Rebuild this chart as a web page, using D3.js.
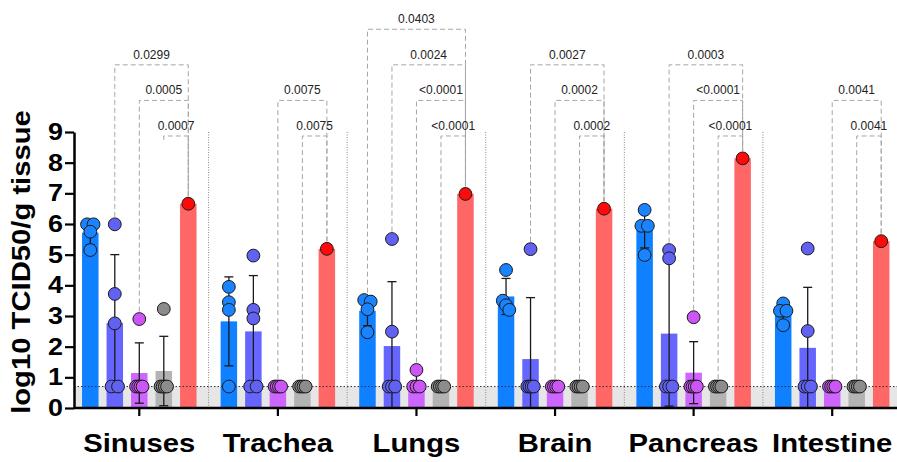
<!DOCTYPE html>
<html>
<head>
<meta charset="utf-8">
<script src="https://cdn.jsdelivr.net/npm/d3@7"></script>
<style>
  html, body { margin: 0; padding: 0; background: #fff; }
  svg { display: block; }
</style>
</head>
<body>
<svg id="chart" width="897" height="462"></svg>
<script>
// Tissue titres (log10 TCID50/g) for five groups across six organs.
const organs = ["Sinuses", "Trachea", "Lungs", "Brain", "Pancreas", "Intestine"];
const seriesKeys = ["s1", "s2", "s3", "s4", "s5"];

// Individual animal values, one list per organ (in organ order).
const series1 = [[5.99, 5.99, 5.75, 5.15], [3.95, 3.45, 3.2, 0.7], [3.52, 3.47, 3.22, 2.47],
                 [4.5, 3.5, 3.35, 3.2], [6.46, 5.94, 5.94, 4.99], [3.41, 3.17, 3.17, 2.7]];
const series2 = [[5.99, 3.72, 2.76, 0.7, 0.7], [4.97, 3.2, 2.92, 0.7, 0.7], [5.51, 2.49, 0.7, 0.7, 0.7],
                 [5.18, 0.7, 0.7, 0.7, 0.7], [5.15, 4.88, 0.7, 0.7, 0.7], [5.2, 2.51, 0.7, 0.7, 0.7]];
const series3 = [[2.9, 0.7, 0.7, 0.7, 0.7], [0.7, 0.7, 0.7, 0.7], [1.24, 0.7, 0.7, 0.7],
                 [0.7, 0.7, 0.7, 0.7], [2.96, 0.7, 0.7, 0.7, 0.7], [0.7, 0.7, 0.7, 0.7]];
const series4 = [[3.23, 0.7, 0.7, 0.7, 0.7], [0.7, 0.7, 0.7, 0.7], [0.7, 0.7, 0.7, 0.7],
                 [0.7, 0.7, 0.7, 0.7], [0.7, 0.7, 0.7, 0.7], [0.7, 0.7, 0.7, 0.7]];
const series5 = [[6.66], [5.19], [6.98], [6.5], [8.14], [5.44]];

const detectionLimit = 0.7;
const yTicks = [0, 1, 2, 3, 4, 5, 6, 7, 8, 9];

// Pairwise comparisons: [organ, series index compared with series 5, bracket tier, p value]
const comparisons = [
  ["Sinuses", 1, 2, "0.0299"], ["Sinuses", 2, 1, "0.0005"], ["Sinuses", 3, 0, "0.0007"],
  ["Trachea", 2, 1, "0.0075"], ["Trachea", 3, 0, "0.0075"],
  ["Lungs", 0, 3, "0.0403"], ["Lungs", 1, 2, "0.0024"], ["Lungs", 2, 1, "<0.0001"], ["Lungs", 3, 0, "<0.0001"],
  ["Brain", 1, 2, "0.0027"], ["Brain", 2, 1, "0.0002"], ["Brain", 3, 0, "0.0002"],
  ["Pancreas", 1, 2, "0.0003"], ["Pancreas", 2, 1, "<0.0001"], ["Pancreas", 3, 0, "<0.0001"],
  ["Intestine", 2, 1, "0.0041"], ["Intestine", 3, 0, "0.0041"]
];
// Brackets whose left leg stops just under the bar line
const shortLegs = [["Sinuses", 3]];

const allSeries = [series1, series2, series3, series4, series5];
const barColors = ["#0f80ff", "#6666ff", "#cc66ff", "#b3b3b3", "#ff6666"];
const dotColors = ["#1a84ff", "#6262f2", "#cc55f5", "#8c8c8c", "#ff0a0a"];

const W = 897, H = 462;
const axisX = 74;
const svg = d3.select("#chart");
const font = "'Liberation Sans', Arial, Helvetica, sans-serif";
const wide = 1.17;   // horizontal stretch of the bold labels

const y = d3.scaleLinear().domain([0, 9]).range([408, 132]);
const x = d3.scaleBand().domain(organs).range([70, 901.5]).padding(0);
const xi = d3.scaleBand().domain(seriesKeys)
  .range([-x.bandwidth() * 0.442, x.bandwidth() * 0.442])
  .paddingInner(0.327).paddingOuter(0.1635);
const r = 6.4;
const tierValue = t => 8.87 + t * 1.16;

// summary stats per bar
const bars = [];
organs.forEach((o, oi) => {
  seriesKeys.forEach((k, si) => {
    const pts = allSeries[si][oi];
    const mean = d3.mean(pts);
    const sd = pts.length > 1 ? d3.deviation(pts) : 0;
    bars.push({ organ: o, key: k, si, pts, mean, sd });
  });
});

// horizontal spread for coincident points
function spread(pts) {
  const sorted = pts.map((v, i) => ({ v, i })).sort((a, b) => b.v - a.v);
  const out = [];
  let cluster = [];
  const flush = () => {
    const n = cluster.length;
    const step = n === 2 ? 6.5 : (n > 2 ? 6.5 / (n - 1) : 0);
    cluster.forEach((p, j) => out.push({ v: p.v, dx: (j - (n - 1) / 2) * step }));
    cluster = [];
  };
  sorted.forEach(p => {
    if (cluster.length && Math.abs(cluster[cluster.length - 1].v - p.v) > 0.2) flush();
    cluster.push(p);
  });
  flush();
  return out;
}

// detection-limit band
svg.append("rect")
  .attr("x", axisX).attr("y", y(detectionLimit))
  .attr("width", W - axisX).attr("height", y(0) - y(detectionLimit))
  .attr("fill", "#e6e6e6");

// organ separators
svg.append("g").selectAll("line")
  .data(organs.slice(1))
  .join("line")
  .attr("x1", d => x(d)).attr("x2", d => x(d))
  .attr("y1", y(9)).attr("y2", y(0))
  .attr("stroke", "#8a8a8a").attr("stroke-width", 1)
  .attr("stroke-dasharray", "1,1.5");

// bars
svg.append("g").selectAll("rect")
  .data(bars)
  .join("rect")
  .attr("x", d => x(d.organ) + x.bandwidth() / 2 + xi(d.key))
  .attr("width", xi.bandwidth())
  .attr("y", d => y(d.mean))
  .attr("height", d => y(0) - y(d.mean))
  .attr("fill", d => barColors[d.si]);

// detection-limit line
svg.append("line")
  .attr("x1", axisX).attr("x2", W)
  .attr("y1", y(detectionLimit)).attr("y2", y(detectionLimit))
  .attr("stroke", "#333").attr("stroke-width", 1)
  .attr("stroke-dasharray", "1.5,2");

// error bars (mean ± SD)
const eb = svg.append("g").attr("stroke", "#1a1a1a").attr("stroke-width", 1.3).attr("fill", "none");
bars.filter(d => d.sd > 0).forEach(d => {
  const cx = x(d.organ) + x.bandwidth() / 2 + xi(d.key) + xi.bandwidth() / 2;
  const lo = Math.max(0, d.mean - d.sd), hi = d.mean + d.sd;
  eb.append("line").attr("x1", cx).attr("x2", cx).attr("y1", y(lo)).attr("y2", y(hi));
  eb.append("line").attr("x1", cx - 4.5).attr("x2", cx + 4.5).attr("y1", y(hi)).attr("y2", y(hi));
  eb.append("line").attr("x1", cx - 4.5).attr("x2", cx + 4.5).attr("y1", y(lo)).attr("y2", y(lo));
});

// individual points
const dots = svg.append("g");
bars.forEach(d => {
  const cx = x(d.organ) + x.bandwidth() / 2 + xi(d.key) + xi.bandwidth() / 2;
  dots.selectAll(null)
    .data(spread(d.pts))
    .join("circle")
    .attr("cx", p => cx + p.dx)
    .attr("cy", p => y(p.v))
    .attr("r", r)
    .attr("fill", dotColors[d.si])
    .attr("stroke", "#1a1a1a").attr("stroke-width", 1);
});

// comparison brackets
const br = svg.append("g");
comparisons.forEach(([organ, si, tier, label]) => {
  const left = bars.find(b => b.organ === organ && b.si === si);
  const right = bars.find(b => b.organ === organ && b.si === 4);
  const cxOf = b => x(b.organ) + x.bandwidth() / 2 + xi(b.key) + xi.bandwidth() / 2;
  const x1 = cxOf(left), x2 = cxOf(right);
  const ly = y(tierValue(tier));
  const isShort = shortLegs.some(s => s[0] === organ && s[1] === si);
  const leftEnd = isShort ? ly + 4 : y(d3.max(left.pts)) - r - 1;
  const rightEnd = y(d3.max(right.pts)) - r - 1;
  br.append("path")
    .attr("d", `M${x1},${leftEnd}V${ly}H${x2}V${rightEnd}`)
    .attr("fill", "none")
    .attr("stroke", "#a6a6a6").attr("stroke-width", 1)
    .attr("stroke-dasharray", "5,3");
  br.append("text")
    .attr("x", (x1 + x2) / 2).attr("y", ly - 6)
    .attr("text-anchor", "middle")
    .attr("font-family", font).attr("font-size", 12)
    .attr("fill", "#222")
    .text(label);
});

// y axis
const yAxis = svg.append("g")
  .attr("transform", `translate(${axisX},0)`)
  .call(d3.axisLeft(y).tickValues(yTicks).tickSize(9).tickSizeOuter(0).tickFormat(d3.format("d")));
yAxis.select(".domain").attr("stroke", "#000").attr("stroke-width", 2.5);
yAxis.selectAll(".tick line").attr("stroke", "#000").attr("stroke-width", 2.2);
yAxis.selectAll(".tick text")
  .attr("font-family", font).attr("font-size", 23).attr("font-weight", "bold")
  .attr("fill", "#000")
  .attr("x", -11 / wide)
  .attr("transform", `scale(${wide},1)`);

// x axis
const xAxis = svg.append("g")
  .attr("transform", `translate(0,${y(0)})`)
  .call(d3.axisBottom(x).tickSize(8).tickSizeOuter(0).tickFormat(""));
xAxis.select(".domain").attr("stroke", "#000").attr("stroke-width", 2.5)
  .attr("d", `M${axisX},0H${W}`);
xAxis.selectAll(".tick line").attr("stroke", "#000").attr("stroke-width", 2.2);

// organ labels
svg.append("g").selectAll("text")
  .data(organs)
  .join("text")
  .attr("transform", d => `translate(${x(d) + x.bandwidth() / 2},452) scale(${wide},1)`)
  .attr("text-anchor", "middle")
  .attr("font-family", font).attr("font-size", 25).attr("font-weight", "bold")
  .attr("fill", "#000")
  .text(d => d);

// y axis title
svg.append("text")
  .attr("transform", `translate(30,262) rotate(-90) scale(${wide},1)`)
  .attr("text-anchor", "middle")
  .attr("font-family", font).attr("font-size", 25).attr("font-weight", "bold")
  .attr("fill", "#000")
  .text("log10 TCID50/g tissue");
</script>
</body>
</html>
